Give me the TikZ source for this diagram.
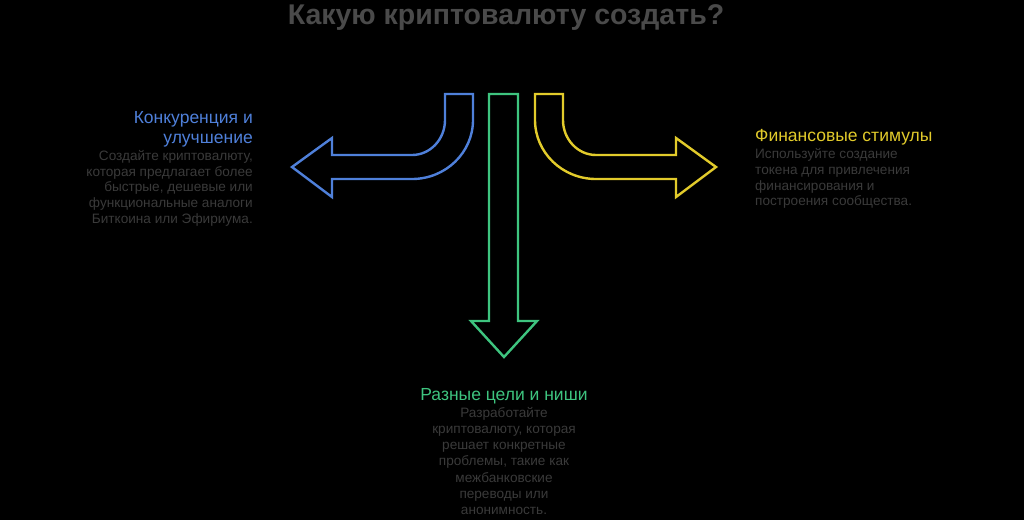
\documentclass[tikz,border=0pt]{standalone}
\usepackage{fontspec}
\setmainfont{Liberation Sans}
\usepackage{xcolor}
\definecolor{optblue}{HTML}{4F80DA}
\definecolor{optgreen}{HTML}{3EC47F}
\definecolor{optyellow}{HTML}{E2CB2B}
\definecolor{titlegray}{HTML}{4A4A4A}
\definecolor{bodygray}{HTML}{3A3A3A}
\usetikzlibrary{positioning}
\tikzset{
    optarrow/.style={
        line width=2.4pt,
        line join=miter
    },
    heading/.style={
        inner sep=0pt,
        font=\fontsize{17.5}{20}\selectfont
    },
    body/.style={
        inner sep=0pt,
        text=bodygray,
        font=\fontsize{13.6}{15.8}\selectfont
    },
}

\begin{document}
\begin{tikzpicture}[x=1pt, y=-1pt]
    \useasboundingbox[fill=black] (0,0) rectangle (1024,520);

    % Title
    \node[font=\fontsize{28.5}{32}\selectfont\bfseries, text=titlegray] (title) at (506,18) {Какую криптовалюту создать?};

    % Left arrow
    \draw[optarrow, optblue] (445,94) -- (473,94) -- (473,120)
        arc[start angle=0, end angle=90, x radius=61, y radius=59]
        -- (332,179) -- (332,197) -- (292,167) -- (332,138) -- (332,155) -- (412,155)
        arc[start angle=90, end angle=0, x radius=33, y radius=35] -- cycle;

    % Middle arrow
    \draw[optarrow, optgreen] (489,94) -- (518,94) -- (518,321) -- (537,321)
        -- (504,357) -- (471,321) -- (489,321) -- cycle;

    % Right arrow
    \draw[optarrow, optyellow] (563,94) -- (535,94) -- (535,120)
        arc[start angle=180, end angle=90, x radius=61, y radius=59]
        -- (676,179) -- (676,197) -- (716,167) -- (676,138) -- (676,155) -- (596,155)
        arc[start angle=90, end angle=180, x radius=33, y radius=35] -- cycle;

    % Left text
    \node[heading, text=optblue, align=right, anchor=north east] (compHead) at (253,111) {Конкуренция и\\улучшение};
    \node[body, align=right, below=3pt of compHead.south east, anchor=north east] (compText)
        {Создайте криптовалюту,\\которая предлагает более\\быстрые, дешевые или\\функциональные аналоги\\Биткоина или Эфириума.};

    % Right text
    \node[heading, text=optyellow, align=left, anchor=north west] (finHead) at (755,129) {Финансовые стимулы};
    \node[body, align=left, below=3pt of finHead.south west, anchor=north west] (finText)
        {Используйте создание\\токена для привлечения\\финансирования и\\построения сообщества.};

    % Bottom text
    \node[heading, text=optgreen, anchor=north] (nicheHead) at (504,388) {Разные цели и ниши};
    \node[body, align=center, below=3pt of nicheHead, font=\fontsize{13.6}{16.2}\selectfont] (nicheText)
        {Разработайте\\криптовалюту, которая\\решает конкретные\\проблемы, такие как\\межбанковские\\переводы или\\анонимность.};
\end{tikzpicture}
\end{document}
